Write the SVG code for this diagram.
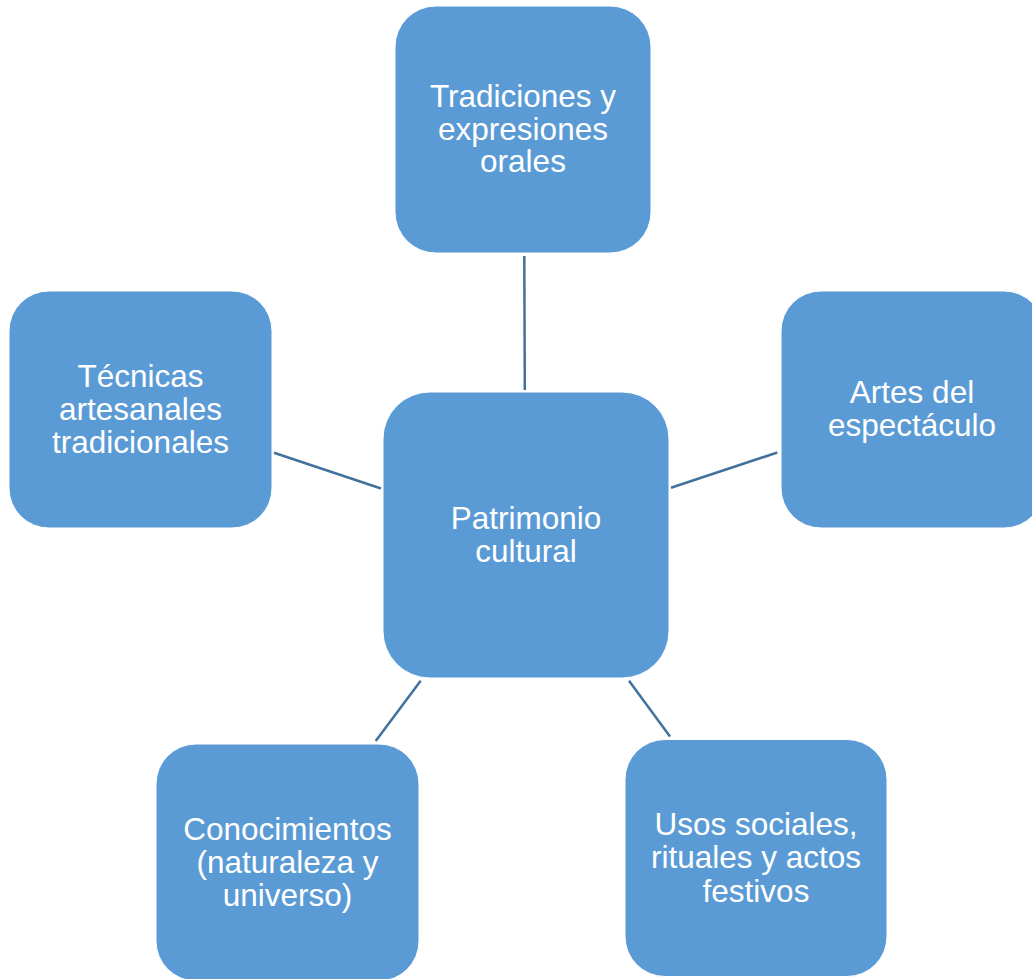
<svg xmlns="http://www.w3.org/2000/svg" width="1032" height="979" viewBox="0 0 1032 979">
<style>
.box{fill:#5B9BD5;stroke:#FFFFFF;stroke-width:1}
.lbl{font-family:"Liberation Sans",Arial,sans-serif;font-size:31.5px;fill:#FFFFFF;text-anchor:middle}
.conn{stroke:#41719C;stroke-width:2.5;fill:none}
</style>
<rect width="1032" height="979" fill="#FFFFFF"/>
<g id="connectors">
<line class="conn" x1="524.3" y1="256" x2="524.8" y2="390"/>
<line class="conn" x1="274" y1="452.7" x2="381" y2="488.5"/>
<line class="conn" x1="671" y1="487.7" x2="777.3" y2="452.5"/>
<line class="conn" x1="420.7" y1="680.7" x2="375.7" y2="741"/>
<line class="conn" x1="629" y1="680.7" x2="670" y2="736.5"/>
</g>
<g id="center">
<rect class="box" x="383" y="392" width="286" height="286" rx="47" ry="47"/>
<text class="lbl" x="526" y="529">Patrimonio</text>
<text class="lbl" x="526" y="561.7">cultural</text>
</g>
<g id="top">
<rect class="box" x="395" y="6" width="256" height="247" rx="41" ry="41"/>
<text class="lbl" x="523" y="107">Tradiciones y</text>
<text class="lbl" x="523" y="139.5">expresiones</text>
<text class="lbl" x="523" y="172">orales</text>
</g>
<g id="right">
<rect class="box" x="781" y="291" width="263" height="237" rx="40" ry="40"/>
<text class="lbl" x="912" y="402.7">Artes del</text>
<text class="lbl" x="912" y="436">espectáculo</text>
</g>
<g id="left">
<rect class="box" x="9" y="291" width="263" height="237" rx="40" ry="40"/>
<text class="lbl" x="140.5" y="387.3">Técnicas</text>
<text class="lbl" x="140.5" y="419.7">artesanales</text>
<text class="lbl" x="140.5" y="452.5">tradicionales</text>
</g>
<g id="bottom-left">
<rect class="box" x="156" y="744" width="263" height="237" rx="40" ry="40"/>
<text class="lbl" x="287.5" y="840">Conocimientos</text>
<text class="lbl" x="287.5" y="872.7">(naturaleza y</text>
<text class="lbl" x="287.5" y="906">universo)</text>
</g>
<g id="bottom-right">
<rect class="box" x="625" y="739.5" width="262" height="237" rx="40" ry="40"/>
<text class="lbl" x="756" y="835">Usos sociales,</text>
<text class="lbl" x="756" y="868.3">rituales y actos</text>
<text class="lbl" x="756" y="901.7">festivos</text>
</g>
</svg>
